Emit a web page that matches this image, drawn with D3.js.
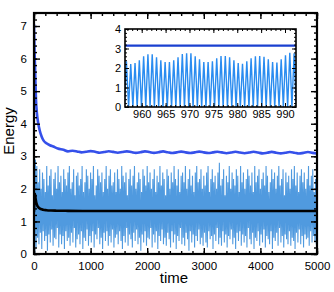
<!DOCTYPE html>
<html><head><meta charset="utf-8">
<script src="https://cdn.jsdelivr.net/npm/d3@7"></script>
<style>
html,body{margin:0;padding:0;background:#fff;}
svg{display:block;font-family:"Liberation Sans",Arial,Helvetica,sans-serif;}
</style></head>
<body><svg id="chart" width="334" height="292"></svg>
<script>
// ---------------- data ----------------
const mainXTicks = [0, 1000, 2000, 3000, 4000, 5000];
const mainYTicks = [0, 1, 2, 3, 4, 5, 6, 7];
const insetXTicks = [960, 965, 970, 975, 980, 985, 990];
const insetYTicks = [0, 1, 2, 3, 4];

// blue (upper) curve: fast decay part
const blueDecayT = [0, 5, 10, 18, 25, 35, 50, 76, 100, 136, 170, 220, 280, 340, 420, 520];
const blueDecayV = [7.05, 6.6, 6.2, 5.76, 5.3, 4.74, 4.35, 4.0, 3.8, 3.6, 3.48, 3.4, 3.34, 3.3, 3.24, 3.2];
// blue curve: wavy plateau, sampled every 80 time units from t=600
const bluePlateauV = [3.15,3.17,3.15,3.12,3.14,3.16,3.14,3.11,3.13,3.155,3.135,3.11,3.13,3.15,3.13,3.105,
  3.125,3.15,3.13,3.105,3.125,3.15,3.125,3.1,3.12,3.145,3.12,3.1,3.12,3.145,3.12,3.1,3.12,3.14,3.12,3.095,
  3.115,3.14,3.115,3.095,3.115,3.14,3.115,3.09,3.11,3.135,3.11,3.09,3.11,3.13,3.11,3.085,3.105,3.13,3.105,3.085];

// black curve
const blackT = [0, 5, 10, 15, 20, 30, 40, 55, 70, 90, 120, 160, 220, 300, 400, 600, 1000, 2000, 3000, 4000, 5000];
const blackV = [1.3, 1.6, 1.78, 1.85, 1.8, 1.68, 1.58, 1.5, 1.45, 1.41, 1.38, 1.36, 1.345, 1.335, 1.33, 1.325, 1.32, 1.32, 1.32, 1.32, 1.32];

// light-blue fast signal: successive maxima and minima (as seen)
const lightHi = [3.3,2.9,2.7,2.2,2.6,2.0,2.5,2.3,1.9,2.7,2.1,2.4,2.6,1.8,2.3,2.5,2.0,2.7,2.2,2.4,
  1.9,2.6,2.3,2.1,2.5,2.7,2.0,2.2,2.6,1.8,2.4,2.5,2.1,2.3,2.7,1.9,2.2,2.6,2.4,2.0,
  2.5,2.3,2.7,1.8,2.1,2.6,2.4,2.2,2.5,1.9,2.3,2.7,2.0,2.4,2.6,2.1,2.2,2.5,1.9,2.6,
  2.3,2.0,2.7,2.4,2.2,2.5,1.8,2.3,2.6,2.1,2.4,2.7,2.0,2.2,2.5,2.3,1.9,2.6,2.4,2.1,
  2.7,2.2,2.5,2.0,2.3,2.6,1.9,2.4,2.2,2.7,2.1,2.5,2.3,1.8,2.6,2.4,2.0,2.5,2.2,2.7,
  2.3,2.1,2.6,1.9,2.4,2.5,2.2,2.7,2.0,2.3,2.6,2.1,2.4,1.9,2.5,2.7,2.2,2.3,2.6,2.0,
  2.4,2.1,2.5,2.7,1.9,2.3,2.6,2.2,2.4,2.0,2.5,2.8,2.1,2.3,2.6,1.8,2.4,2.2,2.7,2.0,
  2.5,2.3,2.1,2.6,2.4,1.9,2.7,2.2,2.5,2.0,2.3,2.6,2.4,2.1,2.5,1.9,2.7,2.2,2.4,2.6,
  2.0,2.3,2.5,2.1,2.7,2.4,1.9,2.2,2.6,2.3,2.5,2.0,2.4,2.7,2.1,2.3,2.6,1.8,2.5,2.2,
  2.4,2.0,2.6,2.3,2.7,2.1,2.5,1.9,2.4,2.6,2.2,2.5,2.0,2.3,2.7,2.1,2.4,2.6,1.9,2.3];
const lightLo = [0.0,0.2,0.5,0.3,0.65,0.15,0.7,0.4,0.55,0.1,0.6,0.35,0.75,0.25,0.5,0.45,0.8,0.2,0.6,0.3,
  0.55,0.15,0.7,0.4,0.5,0.25,0.65,0.35,0.8,0.2,0.45,0.6,0.3,0.7,0.15,0.5,0.4,0.75,0.25,0.55,
  0.35,0.7,0.2,0.6,0.45,0.8,0.3,0.5,0.15,0.65,0.4,0.7,0.25,0.55,0.35,0.75,0.2,0.5,0.6,0.3,
  0.7,0.4,0.15,0.55,0.35,0.8,0.25,0.6,0.45,0.2,0.65,0.4,0.75,0.3,0.5,0.1,0.6,0.35,0.7,0.25,
  0.5,0.45,0.8,0.2,0.6,0.35,0.7,0.15,0.55,0.4,0.75,0.3,0.5,0.25,0.65,0.45,0.2,0.7,0.35,0.6,
  0.15,0.55,0.4,0.8,0.3,0.5,0.25,0.65,0.45,0.1,0.7,0.35,0.6,0.2,0.55,0.4,0.75,0.3,0.5,0.25,
  0.65,0.35,0.2,0.7,0.45,0.55,0.15,0.6,0.4,0.8,0.3,0.5,0.25,0.7,0.35,0.6,0.2,0.55,0.45,0.75,
  0.3,0.5,0.15,0.65,0.4,0.7,0.25,0.6,0.35,0.55,0.2,0.8,0.45,0.3,0.65,0.15,0.5,0.4,0.7,0.25,
  0.6,0.35,0.75,0.2,0.55,0.45,0.3,0.7,0.15,0.5,0.4,0.65,0.25,0.8,0.35,0.55,0.2,0.6,0.45,0.3,
  0.7,0.25,0.5,0.4,0.15,0.65,0.35,0.75,0.3,0.55,0.2,0.6,0.45,0.5,0.25,0.7,0.35,0.55,0.4,0.3];

// inset: peak heights of the fast oscillation (troughs reach 0), and the blue level
const insetPeaks = [2.35,2.2,2.25,2.4,2.6,2.7,2.7,2.55,2.4,2.3,2.3,2.4,2.55,2.72,2.76,2.75,2.6,2.45,2.3,2.3,
  2.35,2.5,2.62,2.62,2.55,2.4,2.25,2.22,2.35,2.5,2.6,2.62,2.58,2.45,2.3,2.28,2.45,2.65,2.78,2.75];
const insetTrough = 0;
const insetBlue = 3.15;

// ---------------- layout ----------------
const svg = d3.select("#chart");
const FONT = '"Liberation Sans",Arial,Helvetica,sans-serif';
const M = {l: 34, r: 317, t: 13, b: 254};
const x = d3.scaleLinear().domain([0, 5000]).range([M.l, M.r]);
const y = d3.scaleLinear().domain([0, 7.4]).range([M.b, M.t]);

svg.append("clipPath").attr("id", "clipMain").append("rect")
  .attr("x", M.l).attr("y", M.t).attr("width", M.r - M.l).attr("height", M.b - M.t);

const plot = svg.append("g").attr("clip-path", "url(#clipMain)");

// light-blue signal
const nL = Math.min(lightHi.length, lightLo.length);
const dt = 5000 / nL;
const lightPts = [];
for (let i = 0; i < nL; i++) {
  lightPts.push([i * dt, lightHi[i]]);
  lightPts.push([i * dt + dt / 2, lightLo[i]]);
}
plot.append("path").datum(lightPts)
  .attr("fill", "none").attr("stroke", "#3d8fdc").attr("stroke-width", 1.1)
  .attr("stroke-opacity", 0.9)
  .attr("d", d3.line().x(d => x(d[0])).y(d => y(d[1])));

// blue curve
const bluePts = blueDecayT.map((t, i) => [t, blueDecayV[i]]);
const plateauT = d3.range(600, 5001, 80);
bluePlateauV.forEach((v, i) => bluePts.push([plateauT[i], v]));
plot.append("path").datum(bluePts)
  .attr("fill", "none").attr("stroke", "#3550ea").attr("stroke-width", 2.6)
  .attr("d", d3.line().curve(d3.curveMonotoneX).x(d => x(d[0])).y(d => y(d[1])));

// black curve
plot.append("path").datum(blackT.map((t, i) => [t, blackV[i]]))
  .attr("fill", "none").attr("stroke", "#000").attr("stroke-width", 2.6)
  .attr("d", d3.line().curve(d3.curveMonotoneX).x(d => x(d[0])).y(d => y(d[1])));

// axes helper
function ticksAll(g, xs, ys, o) {
  const xr = xs.range(), yr = ys.range();
  const gB = g.append("g").attr("transform", `translate(0,${yr[0]})`);
  gB.call(d3.axisBottom(xs).tickValues(o.xMajor).tickSize(-o.big).tickPadding(o.padX).tickFormat(d3.format("d")));
  g.append("g").attr("transform", `translate(0,${yr[0]})`)
    .call(d3.axisBottom(xs).tickValues(o.xMinor).tickSize(-o.small).tickFormat(""));
  g.append("g").attr("transform", `translate(0,${yr[1]})`)
    .call(d3.axisTop(xs).tickValues(o.xMajor).tickSize(-o.big).tickFormat(""));
  g.append("g").attr("transform", `translate(0,${yr[1]})`)
    .call(d3.axisTop(xs).tickValues(o.xMinor).tickSize(-o.small).tickFormat(""));
  g.append("g").attr("transform", `translate(${xr[0]},0)`)
    .call(d3.axisLeft(ys).tickValues(o.yMajor).tickSize(-o.big).tickPadding(o.padY).tickFormat(d3.format("d")));
  g.append("g").attr("transform", `translate(${xr[0]},0)`)
    .call(d3.axisLeft(ys).tickValues(o.yMinor).tickSize(-o.small).tickFormat(""));
  g.append("g").attr("transform", `translate(${xr[1]},0)`)
    .call(d3.axisRight(ys).tickValues(o.yMajor).tickSize(-o.big).tickFormat(""));
  g.append("g").attr("transform", `translate(${xr[1]},0)`)
    .call(d3.axisRight(ys).tickValues(o.yMinor).tickSize(-o.small).tickFormat(""));
  g.selectAll(".domain").remove();
  g.selectAll(".tick line").attr("stroke", "#000").attr("stroke-width", o.tw);
  g.selectAll("text").attr("font-family", FONT).attr("font-size", o.fs).attr("fill", "#000");
  g.append("rect").attr("x", xr[0]).attr("y", yr[1]).attr("width", xr[1] - xr[0]).attr("height", yr[0] - yr[1])
    .attr("fill", "none").attr("stroke", "#000").attr("stroke-width", o.fw);
}

ticksAll(svg.append("g"), x, y, {
  xMajor: mainXTicks, xMinor: d3.range(0, 5001, 200),
  yMajor: mainYTicks, yMinor: d3.range(0, 7.41, 0.2),
  big: 6, small: 3, padX: 8, padY: 7, tw: 1.4, fw: 2.2, fs: 11.5
});

// axis titles
svg.append("text").attr("x", 174).attr("y", 283).attr("text-anchor", "middle")
  .attr("font-family", FONT).attr("font-size", 15).text("time");
svg.append("text").attr("transform", "translate(14,131) rotate(-90)").attr("text-anchor", "middle")
  .attr("font-family", FONT).attr("font-size", 15).text("Energy");

// ---------------- inset ----------------
const I = {l: 125, r: 296, t: 29, b: 107};
const xi = d3.scaleLinear().domain([956.5, 992.3]).range([I.l, I.r]);
const yi = d3.scaleLinear().domain([0, 4]).range([I.b, I.t]);
const ins = svg.append("g");
ins.append("rect").attr("x", I.l).attr("y", I.t).attr("width", I.r - I.l).attr("height", I.b - I.t).attr("fill", "#fff");
svg.append("clipPath").attr("id", "clipIn").append("rect")
  .attr("x", I.l).attr("y", I.t).attr("width", I.r - I.l).attr("height", I.b - I.t);
const ip = ins.append("g").attr("clip-path", "url(#clipIn)");
const per = 0.9, t0 = 956.8;
const insPts = [];
insetPeaks.forEach((p, i) => {
  insPts.push([t0 + i * per - per / 2, insetTrough]);
  insPts.push([t0 + i * per, p]);
});
insPts.push([t0 + insetPeaks.length * per - per / 2, insetTrough]);
ip.append("path").datum(insPts)
  .attr("fill", "none").attr("stroke", "#2a8cf0").attr("stroke-width", 1.4)
  .attr("d", d3.line().x(d => xi(d[0])).y(d => yi(d[1])));
ip.append("path").datum([[956.5, insetBlue], [992.3, insetBlue]])
  .attr("fill", "none").attr("stroke", "#1a40d0").attr("stroke-width", 2.2)
  .attr("d", d3.line().x(d => xi(d[0])).y(d => yi(d[1])));

ticksAll(ins.append("g"), xi, yi, {
  xMajor: insetXTicks, xMinor: d3.range(957, 993, 1),
  yMajor: insetYTicks, yMinor: d3.range(0, 4.01, 0.2),
  big: 4, small: 2, padX: 3, padY: 4, tw: 1, fw: 1.6, fs: 11
});
</script></body></html>
